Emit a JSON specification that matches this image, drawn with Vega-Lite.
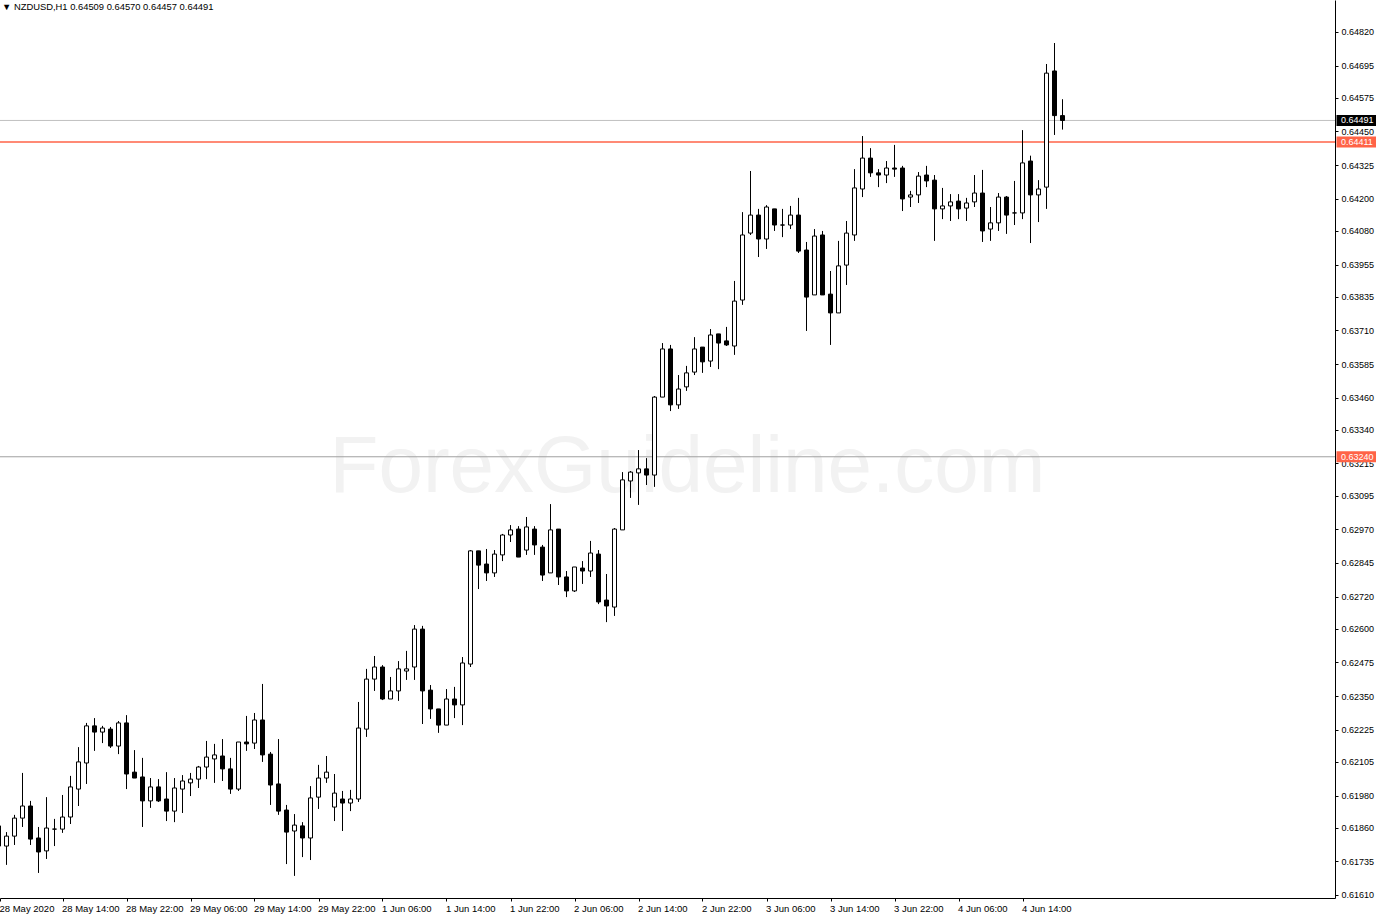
{
  "$schema": "https://vega.github.io/schema/vega-lite/v6.json",
  "width": 1335,
  "height": 898,
  "autosize": {"type": "none"},
  "padding": {"left": 0, "top": 0, "right": 41, "bottom": 20},
  "background": "white",
  "config": {
    "view": {"stroke": null},
    "scale": {"continuousPadding": 0},
    "axis": {"grid": false, "domainColor": "black", "tickColor": "black", "labelColor": "black", "labelFont": "Liberation Sans", "labelFontSize": 9, "labelOverlap": false, "labelFlush": false, "labelBound": false}
  },
  "title": {"text": "▼ NZDUSD,H1  0.64509 0.64570 0.64457 0.64491", "anchor": "start", "frame": "group", "orient": "top", "offset": -12, "dx": 2, "fontSize": 9.4, "font": "Liberation Sans", "fontWeight": "normal", "color": "black"},
  "data": {"values": [
    {"i":-1,"t":"28 May 06:00","o":0.61867,"h":0.61874,"l":0.61777,"c":0.61792},
    {"i":0,"t":"28 May 07:00","o":0.61792,"h":0.61844,"l":0.61722,"c":0.61829},
    {"i":1,"t":"28 May 08:00","o":0.61829,"h":0.61908,"l":0.61796,"c":0.61896},
    {"i":2,"t":"28 May 09:00","o":0.61896,"h":0.62064,"l":0.61863,"c":0.61941},
    {"i":3,"t":"28 May 10:00","o":0.61941,"h":0.61960,"l":0.61796,"c":0.61818},
    {"i":4,"t":"28 May 11:00","o":0.61822,"h":0.61863,"l":0.61692,"c":0.61770},
    {"i":5,"t":"28 May 12:00","o":0.61774,"h":0.61974,"l":0.61744,"c":0.61859},
    {"i":6,"t":"28 May 13:00","o":0.61855,"h":0.61893,"l":0.61792,"c":0.61855},
    {"i":7,"t":"28 May 14:00","o":0.61855,"h":0.61982,"l":0.61841,"c":0.61900},
    {"i":8,"t":"28 May 15:00","o":0.61900,"h":0.62053,"l":0.61874,"c":0.62012},
    {"i":9,"t":"28 May 16:00","o":0.62004,"h":0.62160,"l":0.61941,"c":0.62105},
    {"i":10,"t":"28 May 17:00","o":0.62101,"h":0.62250,"l":0.62023,"c":0.62239},
    {"i":11,"t":"28 May 18:00","o":0.62239,"h":0.62268,"l":0.62146,"c":0.62216},
    {"i":12,"t":"28 May 19:00","o":0.62216,"h":0.62239,"l":0.62175,"c":0.62231},
    {"i":13,"t":"28 May 20:00","o":0.62227,"h":0.62235,"l":0.62157,"c":0.62164},
    {"i":14,"t":"28 May 21:00","o":0.62164,"h":0.62257,"l":0.62134,"c":0.62250},
    {"i":15,"t":"28 May 22:00","o":0.62250,"h":0.62279,"l":0.62004,"c":0.62060},
    {"i":16,"t":"28 May 23:00","o":0.62067,"h":0.62149,"l":0.62045,"c":0.62045},
    {"i":17,"t":"29 May 00:00","o":0.62049,"h":0.62120,"l":0.61863,"c":0.61960},
    {"i":18,"t":"29 May 01:00","o":0.61960,"h":0.62045,"l":0.61934,"c":0.62012},
    {"i":19,"t":"29 May 02:00","o":0.62012,"h":0.62041,"l":0.61956,"c":0.61960},
    {"i":20,"t":"29 May 03:00","o":0.61967,"h":0.62067,"l":0.61885,"c":0.61922},
    {"i":21,"t":"29 May 04:00","o":0.61922,"h":0.62045,"l":0.61881,"c":0.62008},
    {"i":22,"t":"29 May 05:00","o":0.62004,"h":0.62056,"l":0.61915,"c":0.62034},
    {"i":23,"t":"29 May 06:00","o":0.62027,"h":0.62064,"l":0.61978,"c":0.62041},
    {"i":24,"t":"29 May 07:00","o":0.62041,"h":0.62090,"l":0.62008,"c":0.62086},
    {"i":25,"t":"29 May 08:00","o":0.62086,"h":0.62183,"l":0.62041,"c":0.62123},
    {"i":26,"t":"29 May 09:00","o":0.62116,"h":0.62172,"l":0.62027,"c":0.62131},
    {"i":27,"t":"29 May 10:00","o":0.62127,"h":0.62190,"l":0.62034,"c":0.62079},
    {"i":28,"t":"29 May 11:00","o":0.62079,"h":0.62120,"l":0.61986,"c":0.62004},
    {"i":29,"t":"29 May 12:00","o":0.62004,"h":0.62179,"l":0.61997,"c":0.62179},
    {"i":30,"t":"29 May 13:00","o":0.62179,"h":0.62276,"l":0.62146,"c":0.62172},
    {"i":31,"t":"29 May 14:00","o":0.62175,"h":0.62287,"l":0.62153,"c":0.62261},
    {"i":32,"t":"29 May 15:00","o":0.62261,"h":0.62395,"l":0.62105,"c":0.62131},
    {"i":33,"t":"29 May 16:00","o":0.62134,"h":0.62142,"l":0.61945,"c":0.62019},
    {"i":34,"t":"29 May 17:00","o":0.62023,"h":0.62190,"l":0.61908,"c":0.61922},
    {"i":35,"t":"29 May 18:00","o":0.61926,"h":0.61945,"l":0.61725,"c":0.61844},
    {"i":36,"t":"29 May 19:00","o":0.61848,"h":0.61911,"l":0.61681,"c":0.61870},
    {"i":37,"t":"29 May 20:00","o":0.61867,"h":0.61881,"l":0.61751,"c":0.61822},
    {"i":38,"t":"29 May 21:00","o":0.61822,"h":0.62015,"l":0.61740,"c":0.61971},
    {"i":39,"t":"29 May 22:00","o":0.61974,"h":0.62094,"l":0.61930,"c":0.62045},
    {"i":40,"t":"29 May 23:00","o":0.62045,"h":0.62127,"l":0.62027,"c":0.62067},
    {"i":41,"t":"1 Jun 00:00","o":0.61937,"h":0.62060,"l":0.61885,"c":0.61989},
    {"i":42,"t":"1 Jun 01:00","o":0.61967,"h":0.61997,"l":0.61848,"c":0.61952},
    {"i":43,"t":"1 Jun 02:00","o":0.61952,"h":0.62001,"l":0.61922,"c":0.61967},
    {"i":44,"t":"1 Jun 03:00","o":0.61967,"h":0.62328,"l":0.61956,"c":0.62231},
    {"i":45,"t":"1 Jun 04:00","o":0.62227,"h":0.62451,"l":0.62198,"c":0.62413},
    {"i":46,"t":"1 Jun 05:00","o":0.62413,"h":0.62499,"l":0.62369,"c":0.62458},
    {"i":47,"t":"1 Jun 06:00","o":0.62458,"h":0.62465,"l":0.62335,"c":0.62339},
    {"i":48,"t":"1 Jun 07:00","o":0.62339,"h":0.62421,"l":0.62339,"c":0.62369},
    {"i":49,"t":"1 Jun 08:00","o":0.62369,"h":0.62480,"l":0.62332,"c":0.62451},
    {"i":50,"t":"1 Jun 09:00","o":0.62443,"h":0.62518,"l":0.62410,"c":0.62451},
    {"i":51,"t":"1 Jun 10:00","o":0.62458,"h":0.62614,"l":0.62410,"c":0.62599},
    {"i":52,"t":"1 Jun 11:00","o":0.62599,"h":0.62611,"l":0.62246,"c":0.62369},
    {"i":53,"t":"1 Jun 12:00","o":0.62372,"h":0.62391,"l":0.62265,"c":0.62302},
    {"i":54,"t":"1 Jun 13:00","o":0.62302,"h":0.62302,"l":0.62213,"c":0.62242},
    {"i":55,"t":"1 Jun 14:00","o":0.62242,"h":0.62376,"l":0.62242,"c":0.62339},
    {"i":56,"t":"1 Jun 15:00","o":0.62339,"h":0.62384,"l":0.62268,"c":0.62317},
    {"i":57,"t":"1 Jun 16:00","o":0.62317,"h":0.62495,"l":0.62242,"c":0.62473},
    {"i":58,"t":"1 Jun 17:00","o":0.62469,"h":0.62893,"l":0.62458,"c":0.62890},
    {"i":59,"t":"1 Jun 18:00","o":0.62890,"h":0.62890,"l":0.62748,"c":0.62837},
    {"i":60,"t":"1 Jun 19:00","o":0.62841,"h":0.62897,"l":0.62778,"c":0.62808},
    {"i":61,"t":"1 Jun 20:00","o":0.62808,"h":0.62893,"l":0.62793,"c":0.62878},
    {"i":62,"t":"1 Jun 21:00","o":0.62875,"h":0.62953,"l":0.62852,"c":0.62949},
    {"i":63,"t":"1 Jun 22:00","o":0.62949,"h":0.62986,"l":0.62923,"c":0.62968},
    {"i":64,"t":"1 Jun 23:00","o":0.62971,"h":0.62982,"l":0.62867,"c":0.62867},
    {"i":65,"t":"2 Jun 00:00","o":0.62893,"h":0.63016,"l":0.62875,"c":0.62979},
    {"i":66,"t":"2 Jun 01:00","o":0.62971,"h":0.62982,"l":0.62875,"c":0.62912},
    {"i":67,"t":"2 Jun 02:00","o":0.62904,"h":0.62912,"l":0.62778,"c":0.62800},
    {"i":68,"t":"2 Jun 03:00","o":0.62808,"h":0.63064,"l":0.62808,"c":0.62968},
    {"i":69,"t":"2 Jun 04:00","o":0.62971,"h":0.62971,"l":0.62763,"c":0.62793},
    {"i":70,"t":"2 Jun 05:00","o":0.62793,"h":0.62815,"l":0.62718,"c":0.62741},
    {"i":71,"t":"2 Jun 06:00","o":0.62741,"h":0.62830,"l":0.62737,"c":0.62830},
    {"i":72,"t":"2 Jun 07:00","o":0.62826,"h":0.62852,"l":0.62767,"c":0.62815},
    {"i":73,"t":"2 Jun 08:00","o":0.62815,"h":0.62927,"l":0.62793,"c":0.62882},
    {"i":74,"t":"2 Jun 09:00","o":0.62878,"h":0.62893,"l":0.62692,"c":0.62700},
    {"i":75,"t":"2 Jun 10:00","o":0.62707,"h":0.62804,"l":0.62625,"c":0.62685},
    {"i":76,"t":"2 Jun 11:00","o":0.62681,"h":0.62975,"l":0.62648,"c":0.62971},
    {"i":77,"t":"2 Jun 12:00","o":0.62968,"h":0.63183,"l":0.62968,"c":0.63154},
    {"i":78,"t":"2 Jun 13:00","o":0.63150,"h":0.63187,"l":0.63087,"c":0.63183},
    {"i":79,"t":"2 Jun 14:00","o":0.63180,"h":0.63265,"l":0.63061,"c":0.63195},
    {"i":80,"t":"2 Jun 15:00","o":0.63195,"h":0.63235,"l":0.63135,"c":0.63172},
    {"i":81,"t":"2 Jun 16:00","o":0.63172,"h":0.63466,"l":0.63128,"c":0.63462},
    {"i":82,"t":"2 Jun 17:00","o":0.63462,"h":0.63663,"l":0.63462,"c":0.63641},
    {"i":83,"t":"2 Jun 18:00","o":0.63641,"h":0.63656,"l":0.63410,"c":0.63433},
    {"i":84,"t":"2 Jun 19:00","o":0.63433,"h":0.63544,"l":0.63418,"c":0.63492},
    {"i":85,"t":"2 Jun 20:00","o":0.63500,"h":0.63578,"l":0.63485,"c":0.63552},
    {"i":86,"t":"2 Jun 21:00","o":0.63555,"h":0.63685,"l":0.63544,"c":0.63641},
    {"i":87,"t":"2 Jun 22:00","o":0.63648,"h":0.63648,"l":0.63552,"c":0.63593},
    {"i":88,"t":"2 Jun 23:00","o":0.63596,"h":0.63715,"l":0.63574,"c":0.63693},
    {"i":89,"t":"3 Jun 00:00","o":0.63697,"h":0.63697,"l":0.63566,"c":0.63663},
    {"i":90,"t":"3 Jun 01:00","o":0.63671,"h":0.63723,"l":0.63652,"c":0.63656},
    {"i":91,"t":"3 Jun 02:00","o":0.63652,"h":0.63894,"l":0.63619,"c":0.63819},
    {"i":92,"t":"3 Jun 03:00","o":0.63823,"h":0.64150,"l":0.63805,"c":0.64065},
    {"i":93,"t":"3 Jun 04:00","o":0.64072,"h":0.64303,"l":0.64065,"c":0.64139},
    {"i":94,"t":"3 Jun 05:00","o":0.64139,"h":0.64162,"l":0.63983,"c":0.64050},
    {"i":95,"t":"3 Jun 06:00","o":0.64050,"h":0.64176,"l":0.64013,"c":0.64169},
    {"i":96,"t":"3 Jun 07:00","o":0.64162,"h":0.64162,"l":0.64080,"c":0.64102},
    {"i":97,"t":"3 Jun 08:00","o":0.64102,"h":0.64162,"l":0.64057,"c":0.64102},
    {"i":98,"t":"3 Jun 09:00","o":0.64102,"h":0.64173,"l":0.64087,"c":0.64139},
    {"i":99,"t":"3 Jun 10:00","o":0.64139,"h":0.64203,"l":0.63998,"c":0.64005},
    {"i":100,"t":"3 Jun 11:00","o":0.64009,"h":0.64039,"l":0.63708,"c":0.63834},
    {"i":101,"t":"3 Jun 12:00","o":0.63842,"h":0.64087,"l":0.63842,"c":0.64061},
    {"i":102,"t":"3 Jun 13:00","o":0.64065,"h":0.64080,"l":0.63842,"c":0.63842},
    {"i":103,"t":"3 Jun 14:00","o":0.63845,"h":0.63931,"l":0.63656,"c":0.63775},
    {"i":104,"t":"3 Jun 15:00","o":0.63775,"h":0.64043,"l":0.63775,"c":0.63950},
    {"i":105,"t":"3 Jun 16:00","o":0.63953,"h":0.64117,"l":0.63879,"c":0.64072},
    {"i":106,"t":"3 Jun 17:00","o":0.64065,"h":0.64310,"l":0.64043,"c":0.64240},
    {"i":107,"t":"3 Jun 18:00","o":0.64236,"h":0.64433,"l":0.64206,"c":0.64351},
    {"i":108,"t":"3 Jun 19:00","o":0.64351,"h":0.64388,"l":0.64281,"c":0.64296},
    {"i":109,"t":"3 Jun 20:00","o":0.64296,"h":0.64310,"l":0.64243,"c":0.64288},
    {"i":110,"t":"3 Jun 21:00","o":0.64288,"h":0.64340,"l":0.64258,"c":0.64314},
    {"i":111,"t":"3 Jun 22:00","o":0.64314,"h":0.64400,"l":0.64281,"c":0.64310},
    {"i":112,"t":"3 Jun 23:00","o":0.64314,"h":0.64322,"l":0.64154,"c":0.64199},
    {"i":113,"t":"4 Jun 00:00","o":0.64206,"h":0.64229,"l":0.64169,"c":0.64214},
    {"i":114,"t":"4 Jun 01:00","o":0.64214,"h":0.64299,"l":0.64184,"c":0.64284},
    {"i":115,"t":"4 Jun 02:00","o":0.64288,"h":0.64322,"l":0.64243,"c":0.64266},
    {"i":116,"t":"4 Jun 03:00","o":0.64269,"h":0.64288,"l":0.64043,"c":0.64162},
    {"i":117,"t":"4 Jun 04:00","o":0.64162,"h":0.64240,"l":0.64124,"c":0.64173},
    {"i":118,"t":"4 Jun 05:00","o":0.64173,"h":0.64217,"l":0.64117,"c":0.64188},
    {"i":119,"t":"4 Jun 06:00","o":0.64191,"h":0.64217,"l":0.64124,"c":0.64162},
    {"i":120,"t":"4 Jun 07:00","o":0.64165,"h":0.64203,"l":0.64117,"c":0.64184},
    {"i":121,"t":"4 Jun 08:00","o":0.64188,"h":0.64288,"l":0.64169,"c":0.64221},
    {"i":122,"t":"4 Jun 09:00","o":0.64221,"h":0.64307,"l":0.64039,"c":0.64080},
    {"i":123,"t":"4 Jun 10:00","o":0.64087,"h":0.64169,"l":0.64043,"c":0.64110},
    {"i":124,"t":"4 Jun 11:00","o":0.64110,"h":0.64221,"l":0.64080,"c":0.64206},
    {"i":125,"t":"4 Jun 12:00","o":0.64206,"h":0.64210,"l":0.64069,"c":0.64139},
    {"i":126,"t":"4 Jun 13:00","o":0.64147,"h":0.64266,"l":0.64102,"c":0.64147},
    {"i":127,"t":"4 Jun 14:00","o":0.64147,"h":0.64455,"l":0.64124,"c":0.64333},
    {"i":128,"t":"4 Jun 15:00","o":0.64340,"h":0.64360,"l":0.64035,"c":0.64214},
    {"i":129,"t":"4 Jun 16:00","o":0.64214,"h":0.64269,"l":0.64113,"c":0.64236},
    {"i":130,"t":"4 Jun 17:00","o":0.64243,"h":0.64701,"l":0.64162,"c":0.64667},
    {"i":131,"t":"4 Jun 18:00","o":0.64675,"h":0.64779,"l":0.64437,"c":0.64509},
    {"i":132,"t":"4 Jun 19:00","o":0.64509,"h":0.64570,"l":0.64457,"c":0.64491}
  ]},
  "layer": [
    {
      "data": {"values": [{"w": "ForexGuideline.com"}]},
      "mark": {"type": "text", "align": "center", "baseline": "alphabetic", "font": "Liberation Sans", "fontSize": 80, "color": "#f2f2f2"},
      "encoding": {
        "x": {"datum": 85.125, "type": "quantitative"},
        "y": {"datum": 0.63109, "type": "quantitative"},
        "text": {"field": "w"}
      }
    },
    {
      "data": {"values": [{"p": 0.64491}]},
      "mark": {"type": "rule", "color": "#c0c0c0", "strokeWidth": 1},
      "encoding": {"y": {"field": "p", "type": "quantitative"}}
    },
    {
      "data": {"values": [{"p": 0.6324}]},
      "mark": {"type": "rule", "color": "#a0a0a0", "strokeWidth": 1},
      "encoding": {"y": {"field": "p", "type": "quantitative"}}
    },
    {
      "data": {"values": [{"p": 0.64411}]},
      "mark": {"type": "rule", "color": "#ff6347", "strokeWidth": 1.6},
      "encoding": {"y": {"field": "p", "type": "quantitative"}}
    },
    {
      "mark": {"type": "rule", "color": "black", "strokeWidth": 1},
      "encoding": {
        "x": {"field": "i", "type": "quantitative", "title": null,
          "scale": {"domain": [-0.8125, 166.0625], "nice": false, "zero": false, "padding": 0},
          "axis": {"values": [-0.8125, 7, 15, 23, 31, 39, 47, 55, 63, 71, 79, 87, 95, 103, 111, 119, 127], "tickCount": 60,
            "labelExpr": "datum.value < 0 ? '28 May 2020' : ['28 May 2020','28 May 14:00','28 May 22:00','29 May 06:00','29 May 14:00','29 May 22:00','1 Jun 06:00','1 Jun 14:00','1 Jun 22:00','2 Jun 06:00','2 Jun 14:00','2 Jun 22:00','3 Jun 06:00','3 Jun 14:00','3 Jun 22:00','4 Jun 06:00','4 Jun 14:00'][(datum.value+1)/8]",
            "labelAlign": "left", "labelBaseline": "top", "labelPadding": 2, "labelOffset": -1, "tickSize": 3, "labelFlush": false, "labelOverlap": false, "labelFontSize": 9.5}},
        "y": {"field": "l", "type": "quantitative", "title": null,
          "scale": {"domain": [0.615988, 0.64939], "nice": false, "zero": false, "padding": 0},
          "axis": {"orient": "right", "tickCount": 60, "values": [0.6482, 0.64695, 0.64575, 0.6445, 0.64325, 0.642, 0.6408, 0.63955, 0.63835, 0.6371, 0.63585, 0.6346, 0.6334, 0.63215, 0.63095, 0.6297, 0.62845, 0.6272, 0.626, 0.62475, 0.6235, 0.62225, 0.62105, 0.6198, 0.6186, 0.61735, 0.6161],
            "format": ".5f", "tickSize": 3, "labelPadding": 3, "labelFlush": false, "labelOverlap": false}},
        "y2": {"field": "h"}
      }
    },
    {
      "mark": {"type": "bar", "size": 4, "stroke": "black", "strokeWidth": 1},
      "encoding": {
        "x": {"field": "i", "type": "quantitative"},
        "y": {"field": "o", "type": "quantitative"},
        "y2": {"field": "c"},
        "fill": {"condition": {"test": "datum.c > datum.o", "value": "white"}, "value": "black"}
      }
    },
    {
      "data": {"values": [{"p": 0.64491}, {"p": 0.64411}, {"p": 0.6324}]},
      "mark": {"type": "tick", "orient": "horizontal", "size": 40, "thickness": 11, "clip": false, "opacity": 1},
      "encoding": {
        "x": {"datum": 168.75, "type": "quantitative"},
        "y": {"field": "p", "type": "quantitative"},
        "color": {"condition": {"test": "datum.p == 0.64491", "value": "black"}, "value": "#ff6347"}
      }
    },
    {
      "data": {"values": [{"p": 0.64491}, {"p": 0.64411}, {"p": 0.6324}]},
      "mark": {"type": "text", "align": "left", "baseline": "middle", "font": "Liberation Sans", "fontSize": 9, "color": "white", "clip": false},
      "encoding": {
        "x": {"datum": 166.8125, "type": "quantitative"},
        "y": {"field": "p", "type": "quantitative"},
        "text": {"field": "p", "type": "quantitative", "format": ".5f"}
      }
    }
  ]
}
